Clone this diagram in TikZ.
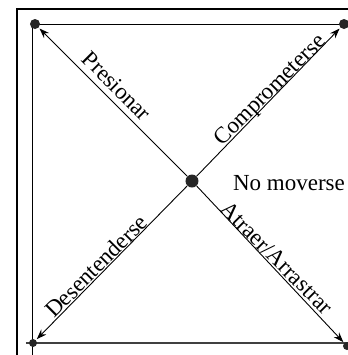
\documentclass[tikz,border=0pt]{standalone}
\usepackage{fontspec}
\setmainfont{Liberation Serif}
\usetikzlibrary{arrows.meta}
\begin{document}
\begin{tikzpicture}[x=0.5pt,y=-0.5pt,
  dot/.style={circle,fill=black!85,inner sep=0pt,minimum size=#1},
  arr/.style={-{Stealth[length=5pt,width=3.6pt]},line width=0.45pt,shorten >=0.5pt},
  lbl/.style={font=\fontsize{11.5}{13}\selectfont,inner sep=0pt}]
\useasboundingbox (0,0) rectangle (348,355);
% frames
\draw[line width=0.7pt] (17,355) -- (17,9) -- (348,9);
\draw[line width=0.5pt] (33,24) -- (348,24);
\draw[line width=0.5pt] (33,24) -- (33,355);
\draw[line width=0.8pt,black!75] (26,343) -- (348,343);
% dots
\node[dot=5pt] (tl) at (35,24) {};
\node[dot=5pt] (tr) at (344,24) {};
\node[dot=4pt] (bl) at (33,343) {};
\node[dot=4pt] (br) at (347,346) {};
\node[dot=6.5pt] (c) at (192,181) {};
% arrows
\draw[arr] (c) -- (tl);
\draw[arr] (c) -- (tr);
\draw[arr] (c) -- (bl);
\draw[arr] (c) -- (br);
% labels
\node[lbl,rotate=-45] (p) at (117,86) {Presionar};
\node[lbl,rotate=45] (cm) at (271,91) {Comprometerse};
\node[lbl,rotate=45] (d) at (96,266) {Desentenderse};
\node[lbl,rotate=-45] (a) at (277,258) {Atraer/Arrastrar};
\node[lbl] (n) at (289,183) {No moverse};
\end{tikzpicture}
\end{document}
